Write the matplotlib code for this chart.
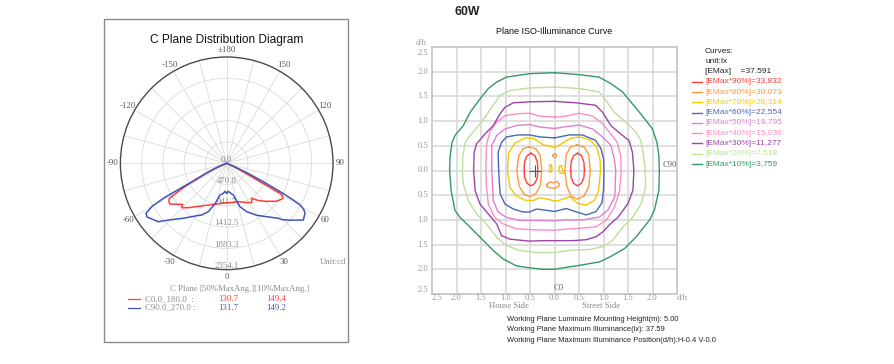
import matplotlib
matplotlib.use('Agg')
import matplotlib.pyplot as plt
import numpy as np
from matplotlib.lines import Line2D
from matplotlib.patches import Rectangle
import matplotlib.transforms as mtrans

W, H = 894, 364

# ---------------- polar (C plane) data ----------------
gamma_c0 = [-90, -72, -68, -65.7, -63, -60.7, -59.5, -58.5, -56.5, -54.3, -50, -47,
            -46, -44.5, -40, -35, -25, -18, -10, 0, 10, 19, 26, 32.5, 35.5, 40, 45,
            50, 52.5, 56.8, 58.5, 60, 60.6, 61.2, 62, 63.3, 65, 67, 90]
cd_c0 = [0, 0, 130, 323, 746, 1100, 1290, 1490, 1535, 1546, 1413, 1331,
         1385, 1385, 1278, 1171, 1025, 958, 907, 874, 877, 900, 966, 1034, 952, 1070, 1190,
         1309, 1383, 1455, 1462, 1418, 1351, 842, 576, 332, 110, 0, 0]

gamma_c90 = [-90, -69, -67, -65, -63, -62, -61.7, -61.1, -60, -58.2, -56, -54.4, -52,
             -49.5, -48.4, -45, -38.3, -30, -25.8, -20.8, -16, -11.9, -6.4, -3, 0, 3,
             6.4, 11.8, 17, 22.5, 30, 36.8, 43.2, 44.5, 48, 53.5, 57.4, 59, 60.5, 61.1,
             62, 63.3, 65, 67, 69, 90]
cd_c90 = [0, 0, 222, 443, 620, 753, 1092, 1595, 1905, 2104, 2126, 2091, 2038,
          1993, 1927, 1772, 1550, 1342, 1271, 1147, 930, 718, 669, 620, 671, 620,
          656, 718, 1006, 1161, 1329, 1477, 1670, 1750, 1883, 2111, 2058, 1994, 1861, 1683,
          1373, 908, 487, 177, 0, 0]

ring_values = [0.0, 470.8, 941.7, 1412.5, 1883.3, 2354.1]
ring_labels = ['0.0', '470.8', '941.7', '1412.5', '1883.3', '2354.1']
theta_label_deg = [0, 30, 60, 90, 120, 150, 180, -150, -120, -90, -60, -30]
theta_labels = ['0', '30', '60', '90', '120', '150', '±180', '-150', '-120', '-90', '-60', '-30']
plane_names = ['C0.0_180.0  :', 'C90.0_270.0 :']
ang50 = ['130.7', '131.7']
ang10 = ['149.4', '149.2']

# ---------------- ISO illuminance contours (d/h units) ----------------
iso10 = [(0, 1.98), (0.51, 1.94), (0.91, 1.89), (1.15, 1.76), (1.39, 1.59), (1.59, 1.35),
         (1.79, 1.11), (2.0, 0.84), (2.09, 0.57), (2.13, 0.3), (2.14, 0), (2.13, -0.4),
         (2.04, -0.8), (1.94, -1.0), (1.67, -1.34), (1.43, -1.58), (1.13, -1.75),
         (0.92, -1.85), (0.51, -1.92), (0.24, -1.96), (0, -2.0), (-0.24, -2.0),
         (-0.51, -1.97), (-0.78, -1.93), (-1.05, -1.79), (-1.25, -1.62), (-1.52, -1.35),
         (-1.79, -1.08), (-1.93, -0.95), (-2.03, -0.81), (-2.11, -0.41), (-2.14, 0),
         (-2.13, 0.3), (-2.09, 0.57), (-2.03, 0.71), (-1.86, 0.91), (-1.72, 1.18),
         (-1.52, 1.45), (-1.35, 1.66), (-1.18, 1.79), (-0.98, 1.89), (-0.51, 1.96)]
iso20 = [(0, 1.69), (0.51, 1.66), (0.91, 1.59), (1.05, 1.42), (1.22, 1.18), (1.45, 0.98),
         (1.66, 0.78), (1.76, 0.61), (1.82, 0.3), (1.85, 0), (1.86, -0.33), (1.77, -0.67),
         (1.6, -0.94), (1.4, -1.14), (1.19, -1.41), (0.99, -1.54), (0.72, -1.6),
         (0.38, -1.61), (0, -1.66), (-0.37, -1.66), (-0.71, -1.62), (-0.98, -1.52),
         (-1.18, -1.35), (-1.39, -1.08), (-1.59, -0.88), (-1.76, -0.61), (-1.86, -0.27),
         (-1.88, 0), (-1.87, 0.3), (-1.82, 0.57), (-1.72, 0.71), (-1.55, 0.91),
         (-1.42, 1.08), (-1.25, 1.32), (-1.11, 1.52), (-0.91, 1.62), (-0.51, 1.67)]
iso30 = [(0, 1.4), (0.44, 1.37), (0.84, 1.32), (0.98, 1.18), (1.15, 0.91), (1.35, 0.74),
         (1.52, 0.61), (1.59, 0.37), (1.62, 0), (1.6, -0.4), (1.5, -0.67), (1.3, -0.94),
         (1.12, -1.1), (0.99, -1.24), (0.85, -1.34), (0.65, -1.4), (0.38, -1.42), (0, -1.42),
         (-0.24, -1.42), (-0.51, -1.43), (-0.91, -1.39), (-1.08, -1.32), (-1.18, -1.08),
         (-1.35, -0.88), (-1.52, -0.68), (-1.62, -0.41), (-1.65, 0), (-1.64, 0.37),
         (-1.59, 0.54), (-1.42, 0.74), (-1.25, 0.91), (-1.11, 1.15), (-1.01, 1.28),
         (-0.84, 1.37), (-0.51, 1.39)]
iso40 = [(0, 1.08), (0.24, 1.1), (0.51, 1.16), (0.78, 1.1), (0.98, 0.95), (1.15, 0.74),
         (1.28, 0.57), (1.35, 0.3), (1.36, 0), (1.33, -0.4), (1.23, -0.73), (1.06, -1.0),
         (0.85, -1.14), (0.51, -1.17), (0.2, -1.19), (0, -1.21), (-0.44, -1.2),
         (-0.78, -1.18), (-1.05, -1.08), (-1.22, -0.95), (-1.35, -0.68), (-1.39, -0.3),
         (-1.4, 0), (-1.39, 0.51), (-1.32, 0.78), (-1.18, 0.98), (-1.01, 1.11),
         (-0.74, 1.15), (-0.51, 1.16), (-0.3, 1.1)]
iso50 = [(0, 0.85), (0.25, 0.89), (0.51, 0.92), (0.78, 0.84), (0.98, 0.68), (1.15, 0.51),
         (1.22, 0.24), (1.25, 0), (1.23, -0.53), (1.09, -0.8), (0.92, -0.94), (0.58, -1.0),
         (0.2, -1.0), (0, -1.02), (-0.24, -1.01), (-0.44, -1.01), (-0.71, -1.01),
         (-0.98, -0.95), (-1.15, -0.84), (-1.25, -0.61), (-1.28, 0), (-1.28, 0.51),
         (-1.18, 0.71), (-1.01, 0.84), (-0.78, 0.91), (-0.51, 0.93), (-0.3, 0.88)]
iso60 = [(0, 0.66), (0.3, 0.72), (0.57, 0.72), (0.84, 0.61), (0.95, 0.44), (1.0, 0.24),
         (1.01, 0), (1.0, -0.4), (0.97, -0.65), (0.85, -0.83), (0.65, -0.9), (0.45, -0.84),
         (0.24, -0.77), (0, -0.83), (-0.2, -0.8), (-0.37, -0.78), (-0.51, -0.84),
         (-0.64, -0.84), (-0.84, -0.78), (-1.01, -0.68), (-1.11, -0.47), (-1.14, 0),
         (-1.15, 0.37), (-1.08, 0.57), (-0.98, 0.68), (-0.74, 0.72), (-0.51, 0.72),
         (-0.3, 0.68)]
iso70 = [(0, 0.47), (0.11, 0.52), (0.32, 0.65), (0.52, 0.68), (0.72, 0.62), (0.86, 0.48),
         (0.93, 0.21), (0.94, 0), (0.9, -0.4), (0.82, -0.6), (0.65, -0.7), (0.48, -0.67),
         (0.31, -0.53), (0.11, -0.6), (0, -0.62), (-0.1, -0.59), (-0.3, -0.55),
         (-0.44, -0.61), (-0.61, -0.6), (-0.78, -0.51), (-0.91, -0.34), (-0.96, 0),
         (-0.94, 0.35), (-0.81, 0.55), (-0.6, 0.66), (-0.43, 0.65), (-0.23, 0.52)]
iso70_spot_l = [(-0.1, 0.1), (-0.06, 0.12), (-0.05, 0.03), (-0.07, -0.04), (-0.11, -0.02),
                (-0.09, 0.04)]
iso70_spot_r = [(0.1, 0.08), (0.14, 0.1), (0.17, 0.0), (0.2, -0.05), (0.12, -0.06), (0.09, 0.0)]
iso80_l = [(-0.52, 0.48), (-0.38, 0.44), (-0.29, 0.3), (-0.26, 0.0), (-0.29, -0.3),
           (-0.38, -0.47), (-0.5, -0.53), (-0.62, -0.48), (-0.72, -0.32), (-0.77, 0.0),
           (-0.73, 0.3), (-0.64, 0.44)]
iso80_r = [(0.46, 0.52), (0.61, 0.47), (0.7, 0.32), (0.73, 0.0), (0.7, -0.32), (0.6, -0.52),
           (0.47, -0.58), (0.34, -0.52), (0.25, -0.32), (0.21, 0.0), (0.24, 0.32), (0.32, 0.47)]
iso80_spot_t = [(-0.03, 0.31), (0.0, 0.34), (0.04, 0.32), (0.03, 0.27), (0.0, 0.26), (-0.03, 0.28)]
iso80_spot_b = [(-0.15, -0.28), (-0.1, -0.23), (-0.02, -0.25), (0.05, -0.22), (0.1, -0.27),
                (0.08, -0.33), (0.0, -0.36), (-0.1, -0.35), (-0.16, -0.32)]
iso90_l = [(-0.48, 0.35), (-0.4, 0.3), (-0.35, 0.17), (-0.34, 0.02), (-0.35, -0.14),
           (-0.4, -0.26), (-0.48, -0.31), (-0.56, -0.26), (-0.61, -0.14), (-0.62, 0.02),
           (-0.61, 0.18), (-0.56, 0.3)]
iso90_r = [(0.47, 0.35), (0.55, 0.3), (0.6, 0.17), (0.61, 0.02), (0.6, -0.14), (0.55, -0.26),
           (0.47, -0.31), (0.39, -0.26), (0.34, -0.14), (0.33, 0.02), (0.34, 0.18), (0.39, 0.3)]
max_pos = (-0.4, 0.0)

legend_labels = ['[EMax*90%]=33,832', '[EMax*80%]=30,073', '[EMax*70%]=26,314',
                 '[EMax*60%]=22,554', '[EMax*50%]=18,795', '[EMax*40%]=15,036',
                 '[EMax*30%]=11,277', '[EMax*20%]=7,518', '[EMax*10%]=3,759']
level_colors = ['#ff3b3b', '#ff9a3c', '#f5c800', '#4a66b8', '#de7fd0', '#ff8cc6',
                '#9c45a8', '#bde09a', '#339966']

x_tick_vals = [-2.4, -2.0, -1.5, -1.0, -0.5, 0.0, 0.5, 1.0, 1.5, 2.0]
x_tick_text = ['2.5', '2.0', '1.5', '1.0', '0.5', '0.0', '0.5', '1.0', '1.5', '2.0']
y_tick_vals = [2.38, 2.0, 1.5, 1.0, 0.5, 0.0, -0.5, -1.0, -1.5, -2.0, -2.42]
y_tick_text = ['2.5', '2.0', '1.5', '1.0', '0.5', '0.0', '0.5', '1.0', '1.5', '2.0', '2.5']

info_lines = ['Working Plane Luminaire Mounting Height(m): 5.00',
              'Working Plane Maximum Illuminance(lx): 37.59',
              'Working Plane Maximum Illuminance Position(d/h):H-0.4 V-0.0']

SERIF = 'Liberation Serif'
SANS = 'Liberation Sans'


def fx(x):
    return x / W


def fy(y):
    return 1 - y / H


fig = plt.figure(figsize=(W / 100, H / 100), dpi=100)
fig.patch.set_facecolor('white')

# ---------------- left panel ----------------
fig.patches.append(Rectangle((fx(104), fy(342)), 244 / W, 323 / H, transform=fig.transFigure,
                             fill=False, edgecolor='#8a8a8a', lw=1.0))
fig.text(fx(226.7), fy(40), 'C Plane Distribution Diagram', ha='center', va='center',
         fontsize=8.6, family=SANS, color='#111111')

cx, cy, R = 226.7, 163.3, 106.3
axp = fig.add_axes([fx(cx - R), fy(cy + R), 2 * R / W, 2 * R / H], projection='polar')
axp.set_theta_zero_location('S')
axp.set_theta_direction(1)
axp.set_ylim(0, ring_values[-1])
axp.set_xticks(np.deg2rad(np.arange(0, 360, 15)))
axp.set_xticklabels([])
axp.set_yticks(ring_values[1:-1])
axp.set_yticklabels([])
axp.grid(True, color='#dadada', lw=0.6)
axp.spines['polar'].set_color('#4a4a4a')
axp.spines['polar'].set_linewidth(1.0)

off = mtrans.offset_copy(axp.transData, fig=fig, x=0, y=3.7, units='dots')
for v, t in zip(ring_values, ring_labels):
    axp.text(0, v, t, transform=off, ha='center', va='center', fontsize=6.3,
             family=SERIF, color='#8c8c8c', zorder=2)
for d, t in zip(theta_label_deg, theta_labels):
    axp.text(np.deg2rad(d), ring_values[-1] * 1.07, t, ha='center', va='center',
             fontsize=6.3, family=SERIF, color='#555555', clip_on=False)

axp.plot(np.deg2rad(gamma_c0), cd_c0, color='#ff3b3b', lw=1.1, zorder=5)
axp.plot(np.deg2rad(gamma_c90), cd_c90, color='#3f55b5', lw=1.1, zorder=5)

fig.text(fx(346.7), fy(261.7), 'Unit:cd', ha='right', va='center', fontsize=6.3,
         family=SERIF, color='#8c8c8c')
fig.text(fx(183.5), fy(289.3), 'C Plane', ha='center', va='center', fontsize=6.3,
         family=SERIF, color='#8c8c8c')
fig.text(fx(255), fy(289.3), '[50%MaxAng.][10%MaxAng.]', ha='center', va='center',
         fontsize=6.3, family=SERIF, color='#8c8c8c')
for i, (col, name) in enumerate(zip(['#ff3b3b', '#3f55b5'], plane_names)):
    yy = 299 + i * 8.7
    fig.add_artist(Line2D([fx(128), fx(140)], [fy(yy), fy(yy)], color=col, lw=0.9,
                          transform=fig.transFigure))
    fig.text(fx(145), fy(yy), name, ha='left', va='center', fontsize=6.3, family=SERIF,
             color='#8c8c8c')
    fig.text(fx(228.3), fy(yy), ang50[i], ha='center', va='center', fontsize=6.3,
             family=SERIF, color=col)
    fig.text(fx(276), fy(yy), ang10[i], ha='center', va='center', fontsize=6.3,
             family=SERIF, color=col)

# ---------------- right panel ----------------
fig.text(fx(467), fy(12), '60W', ha='center', va='center', fontsize=8.8,
         fontweight='bold', family=SANS, color='#222222')
fig.text(fx(554), fy(31), 'Plane ISO-Illuminance Curve', ha='center', va='center',
         fontsize=6.5, family=SANS, color='#111111')

ax2 = fig.add_axes([fx(432), fy(294), 245 / W, 247 / H])
ax2.set_xlim(-2.5, 2.5)
ax2.set_ylim(-2.5, 2.5)
ax2.set_xticks(np.arange(-2.0, 2.01, 0.5))
ax2.set_yticks(np.arange(-2.0, 2.01, 0.5))
ax2.grid(True, color='#dcdcdc', lw=1.3)
ax2.set_axisbelow(True)
ax2.tick_params(length=0, labelbottom=False, labelleft=False)
for s in ax2.spines.values():
    s.set_color('#c8c8c8')
    s.set_linewidth(1.3)

contours = [
    (iso90_l, 0), (iso90_r, 0),
    (iso80_l, 1), (iso80_r, 1), (iso80_spot_t, 1), (iso80_spot_b, 1),
    (iso70, 2), (iso70_spot_l, 2), (iso70_spot_r, 2),
    (iso60, 3), (iso50, 4), (iso40, 5), (iso30, 6), (iso20, 7), (iso10, 8),
]
for pts, k in contours:
    xs = [p[0] for p in pts] + [pts[0][0]]
    ys = [p[1] for p in pts] + [pts[0][1]]
    ax2.plot(xs, ys, color=level_colors[k], lw=1.0, solid_joinstyle='round')

ax2.plot([max_pos[0]], [max_pos[1]], marker='+', markersize=8, color='#555555',
         mew=0.8, ls='none')

tx = mtrans.blended_transform_factory(ax2.transData, ax2.transAxes)
for v, t in zip(x_tick_vals, x_tick_text):
    ax2.text(v, -0.018, t, transform=tx, ha='center', va='center', fontsize=6.2,
             family=SERIF, color='#999999', clip_on=False)
ax2.text(2.6, -0.018, 'd/h', transform=tx, ha='center', va='center', fontsize=6.2,
         family=SERIF, color='#999999', clip_on=False)
ty = mtrans.blended_transform_factory(ax2.transAxes, ax2.transData)
for v, t in zip(y_tick_vals, y_tick_text):
    ax2.text(-0.016, v, t, transform=ty, ha='right', va='center', fontsize=6.2,
             family=SERIF, color='#999999', clip_on=False)
fig.text(fx(421), fy(42.7), 'd/h', ha='center', va='center', fontsize=6.2,
         family=SERIF, color='#999999')
ax2.text(-0.92, -0.05, 'House Side', transform=tx, ha='center', va='center', fontsize=6.2,
         family=SERIF, color='#888888', clip_on=False)
ax2.text(0.95, -0.05, 'Street Side', transform=tx, ha='center', va='center', fontsize=6.2,
         family=SERIF, color='#888888', clip_on=False)
ax2.text(0.08, -2.37, 'C0', ha='center', va='center', fontsize=6.2, family=SERIF,
         color='#666666')
ax2.text(2.36, 0.11, 'C90', ha='center', va='center', fontsize=6.2, family=SERIF,
         color='#666666')

for i, t in enumerate(info_lines):
    fig.text(fx(506.7), fy(319.3 + i * 10.4), t, ha='left', va='center', fontsize=5.4,
             family=SANS, color='#222222')

# legend
fig.text(fx(705), fy(51.7), 'Curves:', ha='left', va='center', fontsize=6,
         family=SANS, color='#222222')
fig.text(fx(705), fy(61.7), 'unit:lx', ha='left', va='center', fontsize=6,
         family=SANS, color='#222222')
fig.text(fx(705), fy(71.7), '[EMax]    =37.591', ha='left', va='center', fontsize=6,
         family=SANS, color='#222222')
for i, (lab, col) in enumerate(zip(legend_labels, level_colors)):
    yy = 81.7 + i * 10.3
    fig.add_artist(Line2D([fx(691.7), fx(701.7)], [fy(yy), fy(yy)], color=col, lw=1.0,
                          transform=fig.transFigure))
    fig.text(fx(705), fy(yy), lab, ha='left', va='center', fontsize=6, family=SANS,
             color=col)

fig.savefig('out.png', dpi=100, facecolor='white')
